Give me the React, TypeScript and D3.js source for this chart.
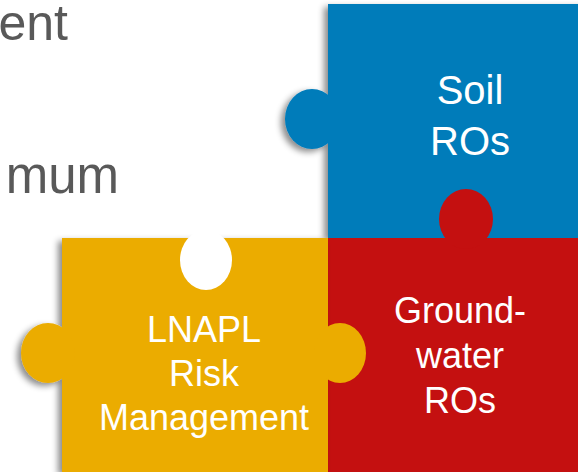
import React from "react";
import * as d3 from "d3";

const W = 578;
const H = 472;

// Text content
const backgroundWords = ["ent", "mum"];
const pieceNames = ["soil", "groundwater", "lnapl"];
const pieceLabels: string[][] = [
  ["Soil", "ROs"],
  ["Ground-", "water", "ROs"],
  ["LNAPL", "Risk", "Management"],
];
const pieceColors = ["#027CBA", "#C41010", "#EBAC00"];

// layout helpers (grid of the puzzle)
const gx = d3.scaleLinear().domain([0, 1, 2]).range([62, 328, 594]);
const gy = d3.scaleLinear().domain([0, 1, 2]).range([4, 238, 472]);

export default function App() {
  const font = "'Liberation Sans', Arial, sans-serif";
  const knobRx = 27;
  const knobRy = 30;

  const lineText = (lines: string[], cx: number, firstBaseline: number, size: number, gap: number) =>
    lines.map((t, i) => (
      <text
        key={i}
        x={cx}
        y={firstBaseline + i * gap}
        textAnchor="middle"
        fill="#ffffff"
        fontSize={size}
        fontFamily={font}
      >
        {t}
      </text>
    ));

  return (
    <svg
      width={W}
      height={H}
      viewBox={`0 0 ${W} ${H}`}
      style={{ position: "absolute", left: 0, top: 0, background: "#ffffff" }}
    >
      <defs>
        <filter id="sh" x="-20%" y="-20%" width="140%" height="140%">
          <feDropShadow dx={-4} dy={3} stdDeviation={3} floodColor="#000" floodOpacity={0.45} />
        </filter>
      </defs>
      <rect x={0} y={0} width={W} height={H} fill="#ffffff" />

      {/* background bullet text fragments */}
      <text x={68} y={40} textAnchor="end" fill="#595959" fontSize={50} fontFamily={font}>
        {backgroundWords[0]}
      </text>
      <text x={119} y={193} textAnchor="end" fill="#595959" fontSize={51} fontFamily={font}>
        {backgroundWords[1]}
      </text>

      {/* Soil piece */}
      <g filter="url(#sh)" data-name={pieceNames[0]}>
        <rect x={gx(1)} y={gy(0)} width={gx(2) - gx(1)} height={gy(1) - gy(0)} fill={pieceColors[0]} />
        <ellipse cx={gx(1) - 16} cy={119} rx={knobRx} ry={knobRy} fill={pieceColors[0]} />
      </g>

      {/* Groundwater piece */}
      <g data-name={pieceNames[1]}>
        <rect x={gx(1)} y={gy(1)} width={gx(2) - gx(1)} height={gy(2) - gy(1)} fill={pieceColors[1]} />
        <ellipse cx={466} cy={219} rx={knobRx} ry={knobRy} fill={pieceColors[1]} />
      </g>

      {/* LNAPL piece */}
      <g filter="url(#sh)" data-name={pieceNames[2]}>
        <rect x={gx(0)} y={gy(1)} width={gx(1) - gx(0)} height={gy(2) - gy(1)} fill={pieceColors[2]} />
        <ellipse cx={gx(0) - 14} cy={353} rx={knobRx} ry={knobRy} fill={pieceColors[2]} />
      </g>
      <ellipse cx={gx(1) + 12} cy={353} rx={26} ry={knobRy} fill={pieceColors[2]} />
      <ellipse cx={206} cy={260} rx={26} ry={30} fill="#ffffff" />

      {lineText(pieceLabels[0], 470, 104, 40, 51)}
      {lineText(pieceLabels[1], 460, 323, 36, 45)}
      {lineText(pieceLabels[2], 204, 342, 36, 44)}
    </svg>
  );
}
